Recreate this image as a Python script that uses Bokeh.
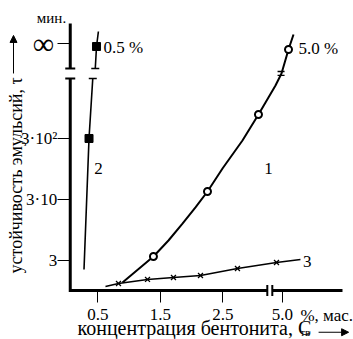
import math
from bokeh.plotting import figure
from bokeh.models import Range1d, FixedTicker, Label, Arrow, NormalHead
from bokeh.embed import file_html
from bokeh.resources import INLINE

nan = float("nan")

# ---- data (concentration, % mass ; emulsion stability tau, min) ----
# positions beyond the axis breaks are read as drawn (5.0 % and "infinity")
c1_conc = [0.895, 1.39, 1.63, 1.854, 2.062, 2.254, 2.494, 2.813, 3.069, 3.341, 3.437, 3.549, 3.629]
c1_tau = [1.31, 3.49, 6.38, 12.1, 22.2, 40.6, 96.6, 278, 741, 2220, 3490, 8630, 15200]
c1_pts_conc = [1.39, 2.254, 3.069, 3.549]
c1_pts_tau = [3.49, 40.6, 741, 8630]

c2_conc = [0.28, 0.36, 0.42, nan, 0.46, 0.48, 0.51]
c2_tau = [2.13, 300, 2890, nan, 4220, 9660, 17000]
c2_pts_conc = [0.36, 0.48]
c2_pts_tau = [300, 9660]

c3_conc = [0.623, 0.831, 1.295, 1.71, 2.142, 2.733, 3.357, 3.74]
c3_tau = [1.12, 1.26, 1.47, 1.58, 1.70, 2.22, 2.78, 3.11]
c3_pts_conc = [0.831, 1.295, 1.71, 2.142, 2.733, 3.357]
c3_pts_tau = [1.26, 1.47, 1.58, 1.70, 2.22, 2.78]

x_ticks = [0.5, 1.5, 2.5, 3.45]
x_tick_labels = ["0.5", "1.5", "2.5", "5.0"]
y_ticks = [3, 30, 300, 10810]
y_tick_labels = ["3", "3·10", "3·10²", ""]
INF_TAU = 10810

FONT = "Liberation Serif"

p = figure(width=353, height=339, output_backend="svg", toolbar_location=None,
           y_axis_type="log",
           x_range=Range1d(-1.055, 4.588), y_range=Range1d(0.1521, 54830),
           min_border=0)
p.outline_line_color = None
p.xgrid.grid_line_color = None
p.ygrid.grid_line_color = None
p.background_fill_color = "white"
p.border_fill_color = "white"

AX_X = 0.06
AX_Y = 0.966

for ax in (p.xaxis[0], p.yaxis[0]):
    ax.axis_line_color = None
    ax.major_tick_line_color = "black"
    ax.major_tick_line_width = 1
    ax.minor_tick_line_color = None
    ax.major_label_text_font = FONT
    ax.major_label_text_font_size = "17px"
    ax.major_label_text_color = "black"

p.xaxis.fixed_location = AX_Y
p.xaxis.ticker = FixedTicker(ticks=x_ticks)
p.xaxis.major_label_overrides = dict(zip(x_ticks, x_tick_labels))
p.xaxis.major_tick_in = 0
p.xaxis.major_tick_out = 12
p.xaxis.major_label_standoff = 6

p.yaxis.fixed_location = AX_X
p.yaxis.ticker = FixedTicker(ticks=y_ticks)
p.yaxis.major_label_overrides = dict(zip(y_ticks, y_tick_labels))
p.yaxis.major_tick_in = 0
p.yaxis.major_tick_out = 13
p.yaxis.major_label_standoff = 0

# ---- axis lines with breaks ----
p.segment(x0=[AX_X, AX_X], y0=[0.914, 4220], x1=[AX_X, AX_X], y1=[2890, 23010],
          line_color="black", line_width=3)
p.scatter(x=[AX_X, AX_X], y=[2890, 4220], marker="dash", size=10, line_width=2, color="black")
p.segment(x0=[0.04, 3.29], y0=[AX_Y, AX_Y], x1=[3.21, 4.412], y1=[AX_Y, AX_Y],
          line_color="black", line_width=3)
p.scatter(x=[3.21, 3.29], y=[AX_Y, AX_Y], marker="dash", angle=math.pi / 2, size=11,
          line_width=2, color="black")

# ---- curves ----
p.line(c1_conc, c1_tau, line_color="black", line_width=2)
p.scatter(x=[3.43, 3.43], y=[3760, 3240], marker="dash", size=7, line_width=1.3, color="black")
p.scatter(c1_pts_conc, c1_pts_tau, marker="circle", size=7, fill_color="white",
          line_color="black", line_width=2)

p.line(c2_conc, c2_tau, line_color="black", line_width=1.6)
p.scatter(x=[0.42, 0.46], y=[2890, 4220], marker="dash", size=8, line_width=1.5, color="black")
p.scatter(c2_pts_conc, c2_pts_tau, marker="square", size=8, color="black")

p.line(c3_conc, c3_tau, line_color="black", line_width=1.5)
p.scatter(c3_pts_conc, c3_pts_tau, marker="x", size=7, line_width=1.3, color="black")

# ---- texts ----
def lab(x, y, text, size="17px", align="left", baseline="middle", angle=0):
    p.add_layout(Label(x=x, y=y, text=text, text_font=FONT, text_font_size=size,
                       text_align=align, text_baseline=baseline, angle=angle,
                       text_color="black"))

lab(0.59, 9310, "0.5 %")
lab(3.71, 8960, "5.0 %")
lab(3.23, 96.6, "1", align="center")
lab(0.51, 96.6, "2", align="center")
lab(3.85, 2.89, "3", align="center")
lab(-0.368, INF_TAU, "∞", size="30px", align="center")
lab(-0.24, 28850, "мин.", size="15px", align="center")
lab(3.74, 0.376, "%, мас.")
lab(0.176, 0.2304, "концентрация бентонита, C", size="20px")
lab(3.735, 0.2057, "тв", size="11px")
lab(-0.815, 1.84, "устойчивость эмульсий, τ", size="18px", angle=math.pi / 2)

p.add_layout(Arrow(end=NormalHead(size=7, fill_color="black", line_color="black"),
                   x_start=4.03, y_start=0.2, x_end=4.51, y_end=0.2,
                   line_color="black", line_width=1.2))
p.add_layout(Arrow(end=NormalHead(size=7, fill_color="black", line_color="black"),
                   x_start=-0.847, y_start=3490, x_end=-0.847, y_end=14660,
                   line_color="black", line_width=1))

open("out.html", "w").write(file_html(p, INLINE))
